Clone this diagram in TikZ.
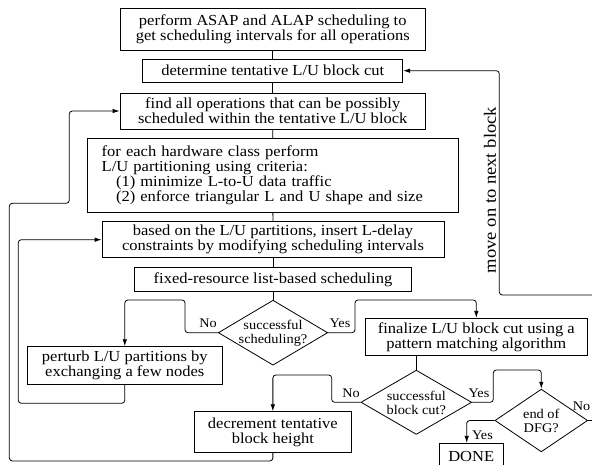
\documentclass[tikz,border=0pt]{standalone}
\usepackage{fontspec}
\setmainfont{Liberation Serif}[FakeStretch=1.08]
\usetikzlibrary{shapes.geometric,arrows.meta}
\newcommand\boxfont{\fontsize{15.3}{14.8}\selectfont}
\newcommand\diafont{\fontsize{13.3}{14.3}\selectfont}
\newcommand\labfont{\fontsize{13.2}{14}\selectfont}
\newcommand\rotfont{\fontsize{17.2}{18}\selectfont}
\begin{document}
\begin{tikzpicture}[x=1pt,y=-1pt,
  line width=0.8pt,
  box/.style={draw, inner sep=0pt, align=center, font=\boxfont},
  dia/.style={draw, shape=diamond, inner sep=0pt},
  dtext/.style={align=center, font=\diafont, inner sep=0pt},
  lab/.style={font=\labfont, inner sep=0pt},
  arr/.style={-{Latex[length=7pt,width=4.5pt]}},
  rc/.style={rounded corners=3pt}]
\useasboundingbox (0,0) rectangle (592,465);
\clip (0,0) rectangle (592,465);
% boxes
\node[box, minimum width=305.5pt, minimum height=42.4pt] (b1) at (272.75,29.5) {perform ASAP and ALAP scheduling to\\get scheduling intervals for all operations};
\node[box, minimum width=260pt, minimum height=22.5pt] (b2) at (272.75,70.7) {determine tentative L/U block cut};
\node[box, minimum width=305.5pt, minimum height=36pt] (b3) at (272.75,111) {find all operations that can be possibly\\scheduled within the tentative L/U block};
\node[box, align=left, text width=342.3pt, inner xsep=14pt, minimum height=74pt] (b4) at (272.85,175.3) {for each hardware class perform\\L/U partitioning using criteria:\\\hspace*{14.3pt}(1) minimize L-to-U data traffic\\\hspace*{14.3pt}(2) enforce triangular L and U shape and size};
\node[box, minimum width=342pt, minimum height=36pt] (b5) at (273,239.7) {based on the L/U partitions, insert L-delay\\constraints by modifying scheduling intervals};
\node[box, minimum width=277.4pt, minimum height=23.3pt] (b6) at (273,279.3) {fixed-resource list-based scheduling};
\node[dia, minimum width=109.4pt, minimum height=65pt] (d1) at (273,332.7) {};
\node[dtext] (d1t) at (273,333.5) {successful\\scheduling?};
\node[box, minimum width=195pt, minimum height=37.3pt] (b7) at (124.8,365.3) {perturb L/U partitions by\\exchanging a few nodes};
\node[box, minimum width=222.7pt, minimum height=37.4pt] (b8) at (476.3,337) {finalize L/U block cut using a\\pattern matching algorithm};
\node[dia, minimum width=110.7pt, minimum height=64.3pt] (d2) at (416.3,402.3) {};
\node[dtext] (d2t) at (416.3,403) {successful\\block cut?};
\node[box, minimum width=157.7pt, minimum height=40.6pt] (b9) at (272.85,432) {decrement tentative\\block height};
\node[dia, minimum width=92.7pt, minimum height=62.7pt] (d3) at (541.3,420.5) {};
\node[dtext] (d3t) at (541.3,421) {end of\\DFG?};
\node[box, minimum width=64.3pt, minimum height=26pt] (done) at (471.2,456.3) {DONE};
% straight connectors
\draw (b1.south) -- (b2.north);
\draw (b2.south) -- (b3.north);
\draw (b3.south) -- (b4.north);
\draw (b4.south) -- (b5.north);
\draw (b5.south) -- (b6.north);
\draw (b6.south) -- (d1.north);
\draw (b8.south -| d2.north) -- (d2.north);
% decision branches
\draw[arr,rc] (d1.west) -| (185,300) -| (b7.north);
\draw[arr,rc] (d1.east) -| (355,300) -| (b8.north);
\draw[arr,rc] (d2.west) -| (331.7,375) -| (b9.north);
\draw[arr,rc] (d2.east) -| (493.3,370) -| (d3.north);
\draw[arr,rc] (d3.west) -| ([xshift=-4.5pt]done.north);
\coordinate (re) at (600,420.5);
\draw (d3.east) -- (re);
% loops
\draw[arr,rc] (b9.south) |- (9.3,461) |- (69.3,203.3) |- (b3.west);
\draw[arr,rc] (b7.south) |- (18.3,403.3) |- (b5.west);
\coordinate (rb) at (600,295);
\draw[arr,rc] (rb) -| (499.3,70.7) -- (b2.east);
% labels
\node[lab] (l1) at (208,323.3) {No};
\node[lab] (l2) at (340,323.3) {Yes};
\node[lab] (l3) at (351,393) {No};
\node[lab] (l4) at (479,393) {Yes};
\node[lab] (l5) at (482.5,435) {Yes};
\node[lab] (l6) at (581.5,406.7) {No};
\node[font=\rotfont, rotate=90, inner sep=0pt] (mv) at (490,190) {move on to next block};
\end{tikzpicture}
\end{document}
